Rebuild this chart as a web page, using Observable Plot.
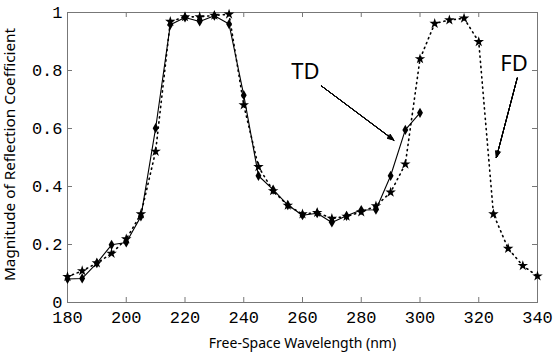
<!DOCTYPE html>
<html><head><meta charset="utf-8">
<script src="https://cdn.jsdelivr.net/npm/d3@7"></script>
<script src="https://cdn.jsdelivr.net/npm/@observablehq/plot@0.6"></script>
<style>body{margin:0;background:#fff}</style>
</head><body><div id="chart"></div>
<script>
const wavelengthTD = [180,185,190,195,200,205,210,215,220,225,230,235,240,245,250,255,260,265,270,275,280,285,290,295,300];
const reflectionTD = [0.081,0.083,0.136,0.199,0.207,0.297,0.601,0.958,0.983,0.969,0.989,0.96,0.715,0.437,0.389,0.336,0.301,0.308,0.276,0.299,0.319,0.32,0.437,0.595,0.654];
const wavelengthFD = [180,185,190,195,200,205,210,215,220,225,230,235,240,245,250,255,260,265,270,275,280,285,290,295,300,305,310,315,320,325,330,335,340];
const reflectionFD = [0.089,0.109,0.136,0.169,0.219,0.305,0.521,0.969,0.985,0.985,0.99,0.994,0.681,0.468,0.385,0.335,0.305,0.31,0.29,0.297,0.312,0.333,0.38,0.477,0.84,0.962,0.974,0.98,0.899,0.305,0.186,0.127,0.091];
const xTicks = [180,200,220,240,260,280,300,320,340];
const yTicks = [0,0.2,0.4,0.6,0.8,1];
const xLabel = "Free-Space Wavelength (nm)";
const yLabel = "Magnitude of Reflection Coefficient";
const noteText = ["TD","FD"];
const noteX = [261,332];
const noteY = [0.795,0.822];
const arrowX1 = [266.4,333.1];
const arrowY1 = [0.747,0.774];
const arrowX2 = [291.1,326.0];
const arrowY2 = [0.56,0.50];

const td = wavelengthTD.map((w,i)=>({w, r: reflectionTD[i]}));
const fd = wavelengthFD.map((w,i)=>({w, r: reflectionFD[i]}));
const notes = noteText.map((t,i)=>({t, x: noteX[i], y: noteY[i]}));
const arrows = arrowX1.map((x1,i)=>({x1, y1: arrowY1[i], x2: arrowX2[i], y2: arrowY2[i]}));

const mono = "Liberation Mono";
const sans = "Noto Sans";
const gray = "#777";
const headAngles = [44, 34, 24, 14, 6];

const chart = Plot.plot({
  width: 554, height: 353,
  marginLeft: 67, marginRight: 17, marginTop: 12, marginBottom: 51,
  style: {background: "#fff", fontFamily: mono, color: "#000", overflow: "visible"},
  x: {domain: [180, 340], axis: null},
  y: {domain: [0, 1], axis: null},
  marks: [
    Plot.frame({stroke: gray}),
    Plot.tickX(xTicks, {x: d => d, insetTop: 285, stroke: gray}),
    Plot.tickX(xTicks, {x: d => d, insetBottom: 285, stroke: gray}),
    Plot.tickY(yTicks, {y: d => d, insetRight: 465, stroke: gray}),
    Plot.tickY(yTicks, {y: d => d, insetLeft: 465, stroke: gray}),
    Plot.axisX(xTicks, {anchor: "bottom", tickSize: 0, tickPadding: 8, label: null, tickFormat: d => String(d), fontSize: 17, fontFamily: mono}),
    Plot.axisY(yTicks, {anchor: "left", tickSize: 0, tickPadding: 5, label: null, tickFormat: d => String(d), fontSize: 17, fontFamily: mono}),
    Plot.text([xLabel], {frameAnchor: "bottom", lineAnchor: "bottom", dy: 45, text: d => d, fontFamily: sans, fontSize: 14}),
    Plot.text([yLabel], {frameAnchor: "left", textAnchor: "middle", rotate: -90, dx: -57, dy: -3, text: d => d, fontFamily: sans, fontSize: 15.3}),
    Plot.line(fd, {x: "w", y: "r", stroke: "#000", strokeWidth: 1.6, strokeDasharray: "1.2,4"}),
    Plot.dot(fd, {x: "w", y: "r", symbol: "star", r: 3.3, fill: "#000", stroke: "none"}),
    Plot.line(td, {x: "w", y: "r", stroke: "#000", strokeWidth: 1.1}),
    Plot.dot(td, {x: "w", y: "r", symbol: "diamond", r: 3.1, fill: "#000", stroke: "none"}),
    Plot.text(notes, {x: "x", y: "y", text: "t", fontFamily: sans, fontSize: 22}),
    ...headAngles.map(a => Plot.arrow(arrows, {x1: "x1", y1: "y1", x2: "x2", y2: "y2", bend: 0, headLength: 10, headAngle: a, stroke: "#000", strokeWidth: 1}))
  ]
});
document.getElementById("chart").appendChild(chart);
</script>
</body></html>
